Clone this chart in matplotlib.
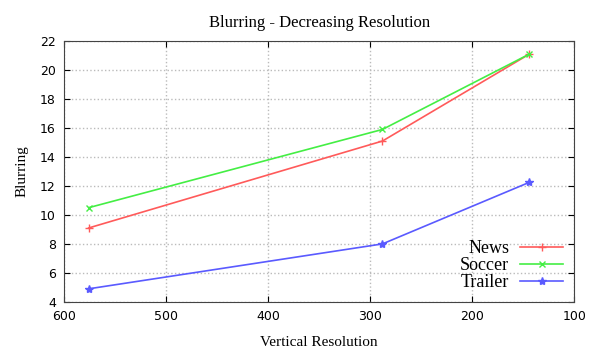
import matplotlib.pyplot as plt

resolution = [576, 288, 144]
news = [9.1, 15.1, 21.1]
soccer = [10.5, 15.9, 21.1]
trailer = [4.9, 8.0, 12.25]

fig = plt.figure(figsize=(6, 3.51), dpi=100)
ax = fig.add_axes([0.107, 0.140, 0.850, 0.743])

ax.plot(resolution, news, color='#ff5a5a', marker='+', markersize=6, lw=1.2, label='News')
ax.plot(resolution, soccer, color='#44ee44', marker='x', markersize=5, lw=1.2, label='Soccer')
ax.plot(resolution, trailer, color='#5a5aff', marker='*', markersize=6, lw=1.2, label='Trailer')

ax.set_xlim(600, 100)
ax.set_ylim(4, 22)
ax.set_xticks([600, 500, 400, 300, 200, 100])
ax.set_yticks(range(4, 23, 2))
ax.tick_params(direction='in', top=True, right=True, length=4, labelsize=9, pad=6)
ax.grid(True, color='#bbbbbb', linestyle=':', lw=1)
for s in ax.spines.values():
    s.set_color('#444444')

ax.set_title('Blurring - Decreasing Resolution', fontfamily='Liberation Serif', fontsize=12, pad=10)
ax.set_ylabel('Blurring', fontfamily='Liberation Serif', fontsize=11, labelpad=8)
ax.set_xlabel('Vertical Resolution', fontfamily='Liberation Serif', fontsize=11, labelpad=9)

ax.legend(loc='lower right', frameon=False, markerfirst=False, handlelength=2.4,
          labelspacing=0.0, borderaxespad=0.2, handletextpad=0.6,
          prop={'family': 'Liberation Serif', 'size': 13})

fig.savefig('out.png', dpi=100)
